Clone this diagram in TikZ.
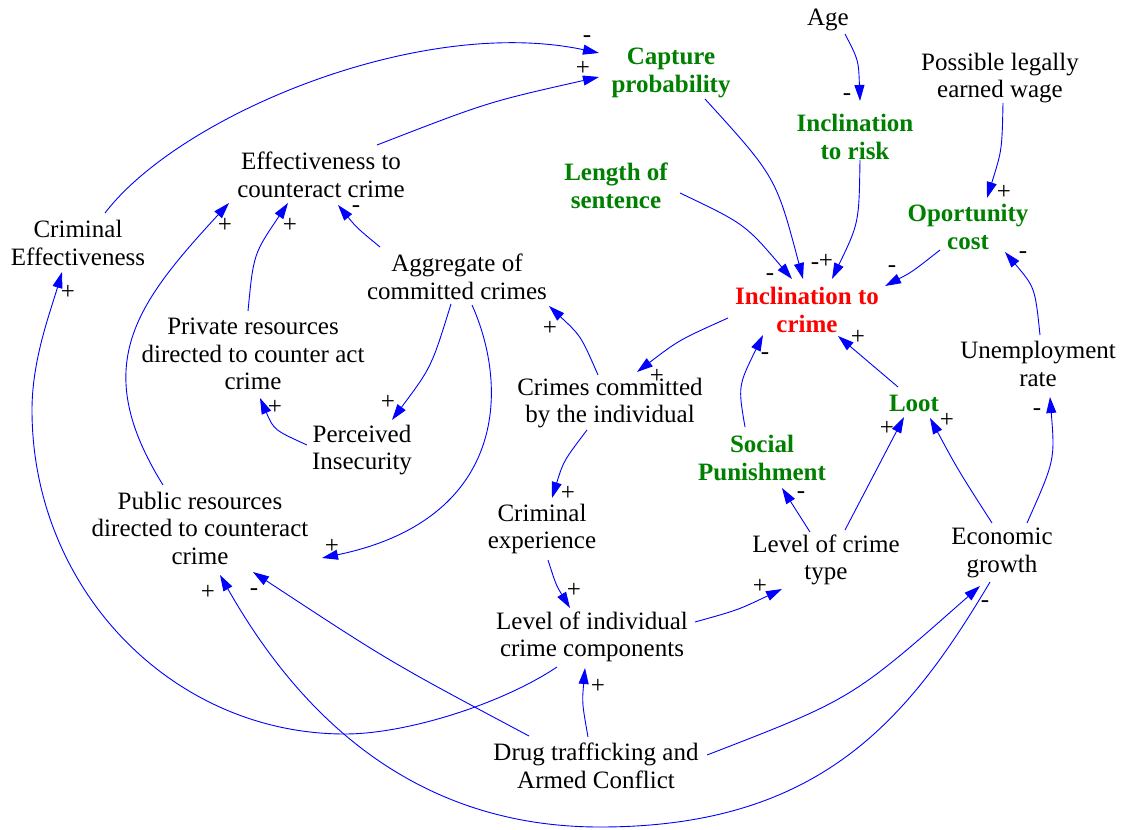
\documentclass[tikz,border=0pt]{standalone}
\usepackage{fontspec}
\setmainfont{Liberation Serif}
\usetikzlibrary{arrows.meta,calc}
\definecolor{keygreen}{RGB}{0,128,0}
\definecolor{keyred}{RGB}{255,0,0}
\definecolor{linkblue}{RGB}{0,0,255}
\tikzset{
  var/.style={align=center, inner sep=1pt, font=\fontsize{25}{27.5}\selectfont},
  key/.style={var, font=\fontsize{25}{27.5}\selectfont\bfseries, text=keygreen},
  focus/.style={var, font=\fontsize{25}{27.5}\selectfont\bfseries, text=keyred},
  link/.style={draw=linkblue, line width=0.9pt, -{Triangle[length=16pt,width=10pt]}},
  sign/.style={inner sep=0pt, font=\fontsize{25}{27.5}\selectfont, text=black}
}
\begin{document}
\begin{tikzpicture}[x=1pt,y=-1pt]
\useasboundingbox (0,0) rectangle (1123,829);
\fill[white] (0,0) rectangle (1123,829);

% variables
\node[var] (age) at (828,20) {Age};
\node[key] (capture) at (671,73) {Capture\\probability};
\node[var] (wage) at (1000,78) {Possible legally\\earned wage};
\node[key] (risk) at (855,137) {Inclination\\to risk};
\node[key] (length) at (616,186) {Length of\\sentence};
\node[var] (effect) at (321,175) {Effectiveness to\\counteract crime};
\node[key] (opp) at (968,227) {Oportunity\\cost};
\node[var] (crimeff) at (78,243) {Criminal\\Effectiveness};
\node[var] (aggr) at (457,277) {Aggregate of\\committed crimes};
\node[focus] (incl) at (807,310) {Inclination to\\crime};
\node[var] (private) at (253,354) {Private resources\\directed to counter act\\crime};
\node[var] (unemp) at (1038,364) {Unemployment\\rate};
\node[var] (crimesind) at (610,403) {Crimes committed\\by the individual};
\node[key] (loot) at (914,403) {Loot};
\node[var] (perc) at (362,450) {Perceived\\Insecurity};
\node[key] (social) at (762,458) {Social\\Punishment};
\node[var] (public) at (200,528) {Public resources\\directed to counteract\\crime};
\node[var] (crimexp) at (542,529) {Criminal\\experience};
\node[var] (croptype) at (826,560) {Level of crime\\type};
\node[var] (econ) at (1002,553) {Economic\\growth};
\node[var] (levind) at (592,637) {Level of individual\\crime components};
\node[var] (drug) at (596,766) {Drug trafficking and\\Armed Conflict};

% links
\draw[link] ($(age)+(17,14)$) .. controls (858.5,60) .. ($(risk)+(5,-36)$) node[sign,shift={(-13,-4)}] (s1) {-};
\draw[link] ($(crimeff)+(27,-30)$) .. controls (180,115) and (420,15) .. ($(capture)+(-72,-20)$) node[sign,shift={(-12,-14)}] (s2) {-};
\draw[link] ($(effect)+(56,-30)$) .. controls (488,102) .. ($(capture)+(-72,4)$) node[sign,shift={(-16,-9)}] (s3) {+};
\draw[link] ($(capture)+(34,26)$) .. controls (776,177) .. ($(incl)+(-4,-31)$) node[sign,shift={(12,-13)}] (s4) {-};
\draw[link] ($(length)+(64,7)$) .. controls (745,224) .. ($(incl)+(-15,-31)$) node[sign,shift={(-22,-2)}] (s5) {-};
\draw[link] ($(risk)+(5,23)$) .. controls (859,223) .. ($(incl)+(25,-31)$) node[sign,shift={(-6,-18)}] (s6) {+};
\draw[link] ($(wage)+(3,25)$) .. controls (1002,150) .. ($(opp)+(19,-29)$) node[sign,shift={(17,-6)}] (s7) {+};
\draw[link] ($(opp)+(-28,23)$) .. controls (912,272) .. ($(incl)+(78,-24)$) node[sign,shift={(7,-17)}] (s8) {-};
\draw[link] ($(unemp)+(2,-29)$) .. controls (1035,287.5) .. ($(opp)+(37,25)$) node[sign,shift={(18,3)}] (s9) {-};
\draw[link] ($(econ)+(25,-30)$) .. controls (1055,460) .. ($(unemp)+(12,33)$) node[sign,shift={(-13,15)}] (s10) {-};
\draw[link] ($(incl)+(-79,8)$) .. controls (679,340) .. ($(crimesind)+(27,-31)$) node[sign,shift={(20,4)}] (s11) {+};
\draw[link] ($(loot)+(-16,-16)$) -- ($(incl)+(31,26)$) node[sign,shift={(20,1)}] (s12) {+};
\draw[link] ($(social)+(-17,-31)$) .. controls (738,386) .. ($(incl)+(-44,25)$) node[sign,shift={(2,21)}] (s13) {-};
\draw[link] ($(croptype)+(19,-30)$) -- ($(loot)+(-10,14)$) node[sign,shift={(-17,11)}] (s14) {+};
\draw[link] ($(econ)+(-10,-30)$) .. controls (958,470) .. ($(loot)+(16,15)$) node[sign,shift={(17,2)}] (s15) {+};
\draw[link] ($(croptype)+(-16,-28)$) -- ($(social)+(20,30)$) node[sign,shift={(19,7)}] (s16) {-};
\draw[link] ($(crimesind)+(-12,-28)$) .. controls (581,336) .. ($(aggr)+(92,29)$) node[sign,shift={(1,22)}] (s17) {+};
\draw[link] ($(crimesind)+(-23,27)$) .. controls (563.5,461) .. ($(crimexp)+(10,-31)$) node[sign,shift={(16,-5)}] (s18) {+};
\draw[link] ($(crimexp)+(6,31)$) .. controls (556,585) .. ($(levind)+(-22,-29)$) node[sign,shift={(4,-18)}] (s19) {+};
\draw[link] ($(levind)+(103,-15)$) .. controls (738,610) .. ($(croptype)+(-44,29)$) node[sign,shift={(-22,-3)}] (s20) {+};
\draw[link] ($(aggr)+(-77,-30)$) .. controls (357,228) .. ($(effect)+(17,30)$) node[sign,shift={(18,4)}] (s21) {-};
\draw[link] ($(private)+(-5,-43)$) .. controls (253.5,254) .. ($(effect)+(-33,28)$) node[sign,shift={(2,22)}] (s22) {+};
\draw[link] ($(public)+(-37,-43)$) .. controls (89,366) and (135,305) .. ($(effect)+(-92,28)$) node[sign,shift={(-4,22)}] (s23) {+};
\draw[link] ($(aggr)+(-6,27)$) .. controls (431.5,367) .. ($(perc)+(30,-30)$) node[sign,shift={(-4,-18)}] (s24) {+};
\draw[link] ($(aggr)+(15,28)$) .. controls (510,390) and (505,520) .. ($(public)+(122,30)$) node[sign,shift={(10,-12)}] (s25) {+};
\draw[link] ($(perc)+(-55,-5)$) .. controls (274,430) .. ($(private)+(7,44)$) node[sign,shift={(15,9)}] (s26) {+};
\draw[link] ($(levind)+(-35,30)$) .. controls (500,705) and (405,734) .. (345,734)
   .. controls (172,734) and (32,589) .. (32,410)
   .. controls (32,360) and (50,313) .. ($(crimeff)+(-16,29)$) node[sign,shift={(6,20)}] (s27) {+};
\draw[link] ($(econ)+(-12,29)$) .. controls (908,720) and (820,827) .. (600,827)
   .. controls (422,827) and (305,725) .. ($(public)+(20,47)$) node[sign,shift={(-12,17)}] (s28) {+};
\draw[link] ($(drug)+(-67,-30)$) .. controls (390,662) .. ($(public)+(53,44)$) node[sign,shift={(1,20)}] (s29) {-};
\draw[link] ($(drug)+(-8,-29)$) .. controls (582,703) .. ($(levind)+(-7,31)$) node[sign,shift={(13,18)}] (s30) {+};
\draw[link] ($(drug)+(111,-11)$) .. controls (852,699) .. ($(econ)+(-22,33)$) node[sign,shift={(5,18)}] (s31) {-};
\end{tikzpicture}
\end{document}
